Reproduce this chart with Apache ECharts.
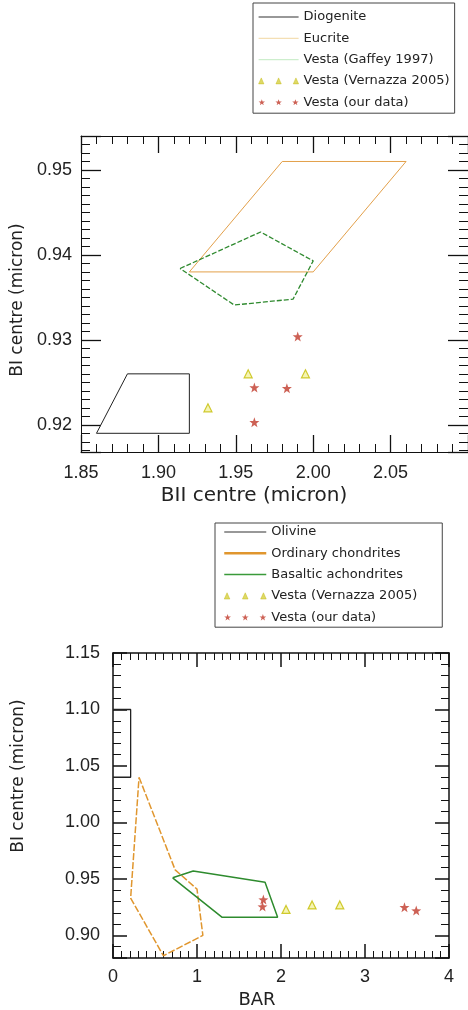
<!DOCTYPE html>
<html>
<head>
<meta charset="utf-8">
<script src="https://cdn.jsdelivr.net/npm/echarts@6/dist/echarts.min.js"></script>
<style>
  html, body { margin: 0; background: #fff; }
  #chart { width: 468px; height: 1010px; }
</style>
</head>
<body>
<div id="chart"></div>
<script>
// ---- top panel: BII centre vs BI centre (micron)
var diogenite = [[1.86, 0.919], [1.92, 0.919], [1.92, 0.926], [1.88, 0.926], [1.86, 0.919]];
var eucrite = [[1.92, 0.938], [2.00, 0.938], [2.06, 0.951], [1.98, 0.951], [1.92, 0.938]];
var gaffey = [[1.914, 0.9384], [1.966, 0.9427], [2.000, 0.9393], [1.987, 0.9348], [1.949, 0.9341], [1.914, 0.9384]];
var vernazzaBII = [[1.932, 0.922], [1.958, 0.926], [1.995, 0.926]];
var oursBII = [[1.990, 0.9304], [1.962, 0.9244], [1.983, 0.9243], [1.962, 0.9203]];
var topXRange = [1.85, 2.10];
var topYRange = [0.9168, 0.954];

// ---- bottom panel: BAR vs BI centre (micron)
var olivine = [[0, 1.10], [0.21, 1.10], [0.21, 1.04], [0, 1.04]];
var chondrites = [[0.31, 1.04], [0.74, 0.958], [1.00, 0.941], [1.07, 0.900], [0.60, 0.882], [0.21, 0.933], [0.31, 1.04]];
var achondrites = [[0.71, 0.951], [0.955, 0.957], [1.81, 0.947], [1.96, 0.916], [1.30, 0.916], [0.71, 0.951]];
var vernazzaBAR = [[2.06, 0.923], [2.37, 0.927], [2.70, 0.927]];
var oursBAR = [[1.78, 0.9255], [1.79, 0.9317], [3.47, 0.925], [3.61, 0.922]];
var botXRange = [0, 4];
var botYRange = [0.88, 1.15];

var topLegendNames = ['Diogenite', 'Eucrite', 'Vesta (Gaffey 1997)', 'Vesta (Vernazza 2005)', 'Vesta (our data)'];
var botLegendNames = ['Olivine', 'Ordinary chondrites', 'Basaltic achondrites', 'Vesta (Vernazza 2005)', 'Vesta (our data)'];

var STAR_PTS = [[5,0],[6.18,3.38],[9.76,3.46],[6.9,5.62],[7.94,9.05],[5,7],[2.06,9.05],[3.1,5.62],[0.24,3.46],[3.82,3.38]];
var STAR = 'path://' + STAR_PTS.map(function (p, i) { return (i ? 'L' : 'M') + p[0] + ',' + p[1]; }).join('') + 'Z';

// three little markers spread across the legend sample
function tripleStar() {
  var d = '';
  [0, 25, 50].forEach(function (dx) {
    STAR_PTS.forEach(function (p, i) { d += (i ? 'L' : 'M') + (p[0] + dx) + ',' + p[1]; });
    d += 'Z';
  });
  return 'path://' + d;
}
var TRI3 = 'path://M0,9L4,0L8,9Z M26,9L30,0L34,9Z M52,9L56,0L60,9Z';

var triStyle = { color: 'rgba(238,236,120,0.7)', borderColor: '#c4bd00', borderWidth: 1.2 };
var starStyle = { color: '#c0392b' };
var noSymbol = { opacity: 0 };

function axis(grid, pos, range, o) {
  return {
    type: 'value', gridIndex: grid, position: pos,
    min: range[0], max: range[1],
    interval: o.interval, splitNumber: o.splitNumber,
    axisLine: { show: true, onZero: false, lineStyle: { color: '#111', width: o.lw } },
    axisTick: { show: true, inside: true, length: o.tick, lineStyle: { color: '#111', width: o.tw } },
    minorTick: { show: true, splitNumber: o.minor, length: o.minorLen, lineStyle: { color: '#111', width: 1 } },
    splitLine: { show: false },
    axisLabel: o.fmt ? {
      show: true, margin: o.margin, color: '#222', fontSize: 18, fontFamily: 'Liberation Sans',
      formatter: o.fmt, showMinLabel: o.showMin, showMaxLabel: o.showMax
    } : { show: false }
  };
}
function f2(v) { return v.toFixed(2); }
function f0(v) { return v.toFixed(0); }

var topX = { interval: 0.05, lw: 1, tick: 17, tw: 1.3, minor: 5, minorLen: 8 };
var topY = { splitNumber: 5, lw: 1, tick: 20, tw: 1.3, minor: 10, minorLen: 9 };
var botX = { interval: 1, lw: 1.5, tick: 14, tw: 1.5, minor: 10, minorLen: 7 };
var botY = { splitNumber: 5, lw: 1.5, tick: 14, tw: 1.5, minor: 5, minorLen: 8 };

function withLabel(base, extra) { return Object.assign({}, base, extra); }

function lineSeries(name, data, x, y, style) {
  return {
    name: name, type: 'line', xAxisIndex: x, yAxisIndex: y, data: data,
    symbol: 'none', showSymbol: false, lineStyle: style, color: style.color, z: 2, silent: true
  };
}
function pointSeries(name, data, x, y, symbol, size, style) {
  return {
    name: name, type: 'scatter', xAxisIndex: x, yAxisIndex: y, data: data,
    symbol: symbol, symbolSize: size, itemStyle: style, z: 3
  };
}

var legendText = { fontFamily: 'DejaVu Sans', fontSize: 13, color: '#222', lineHeight: 14 };
var legTri = { color: '#d6d040', borderColor: '#bdb300', borderWidth: 0.5 };

var option = {
  animation: false,
  backgroundColor: '#fff',
  grid: [
    { left: 81, top: 136, width: 392, height: 316 },
    { left: 113, top: 653, width: 336, height: 305 }
  ],
  xAxis: [
    axis(0, 'bottom', topXRange, withLabel(topX, { fmt: f2, margin: 12, showMin: true, showMax: false })),
    axis(0, 'top', topXRange, topX),
    axis(1, 'bottom', botXRange, withLabel(botX, { fmt: f0, margin: 10, showMin: true, showMax: true })),
    axis(1, 'top', botXRange, botX)
  ],
  yAxis: [
    axis(0, 'left', topYRange, withLabel(topY, { fmt: f2, margin: 9, showMin: false, showMax: false })),
    axis(0, 'right', topYRange, topY),
    axis(1, 'left', botYRange, withLabel(botY, { fmt: f2, margin: 13, showMin: false, showMax: true })),
    axis(1, 'right', botYRange, botY)
  ],
  legend: [
    {
      orient: 'vertical', left: 253, top: 3, itemWidth: 40, itemHeight: 7, itemGap: 7.3,
      padding: [7, 5, 4, 5], borderColor: '#444', borderWidth: 1, textStyle: legendText,
      selectedMode: false,
      data: [
        { name: topLegendNames[0], lineStyle: { color: '#333', width: 1.2, type: 'solid' }, itemStyle: noSymbol },
        { name: topLegendNames[1], lineStyle: { color: '#f4dfb4', width: 1.2, type: 'solid' }, itemStyle: noSymbol },
        { name: topLegendNames[2], lineStyle: { color: '#cdeecd', width: 1.2, type: 'solid' }, itemStyle: noSymbol },
        { name: topLegendNames[3], icon: TRI3, itemStyle: legTri },
        { name: topLegendNames[4], icon: tripleStar(), itemStyle: starStyle }
      ]
    },
    {
      orient: 'vertical', left: 215, top: 523, itemWidth: 42, itemHeight: 7, itemGap: 7.3,
      padding: [2, 25, 3, 8], borderColor: '#444', borderWidth: 1, textStyle: legendText,
      selectedMode: false,
      data: [
        { name: botLegendNames[0], lineStyle: { color: '#333', width: 1.2, type: 'solid' }, itemStyle: noSymbol },
        { name: botLegendNames[1], lineStyle: { color: '#e0962e', width: 2.5, type: 'solid' }, itemStyle: noSymbol },
        { name: botLegendNames[2], lineStyle: { color: '#3a9a3a', width: 1.5, type: 'solid' }, itemStyle: noSymbol },
        { name: botLegendNames[3], icon: TRI3, itemStyle: legTri },
        { name: botLegendNames[4], icon: tripleStar(), itemStyle: starStyle }
      ]
    }
  ],
  graphic: [
    { type: 'text', x: 254, y: 496, style: { text: 'BII centre (micron)', font: '20px "DejaVu Sans"', fill: '#222', align: 'center', verticalAlign: 'middle' } },
    { type: 'text', x: 18, y: 300, rotation: Math.PI / 2, style: { text: 'BI centre (micron)', font: '17px "DejaVu Sans"', fill: '#222', align: 'center', verticalAlign: 'middle' } },
    { type: 'text', x: 257, y: 1000, style: { text: 'BAR', font: '18px "DejaVu Sans"', fill: '#222', align: 'center', verticalAlign: 'middle' } },
    { type: 'text', x: 19, y: 776, rotation: Math.PI / 2, style: { text: 'BI centre (micron)', font: '17px "DejaVu Sans"', fill: '#222', align: 'center', verticalAlign: 'middle' } }
  ],
  series: [
    lineSeries('Diogenite', diogenite, 0, 0, { color: '#222', width: 1 }),
    lineSeries('Eucrite', eucrite, 0, 0, { color: '#e3a04a', width: 1 }),
    lineSeries('Vesta (Gaffey 1997)', gaffey, 0, 0, { color: '#2f8a2f', width: 1.3, type: [5, 2] }),
    pointSeries('Vesta (Vernazza 2005)', vernazzaBII, 0, 0, 'triangle', 8, triStyle),
    pointSeries('Vesta (our data)', oursBII, 0, 0, STAR, 10, starStyle),

    lineSeries('Olivine', olivine, 2, 2, { color: '#222', width: 1.3 }),
    lineSeries('Ordinary chondrites', chondrites, 2, 2, { color: '#e0962e', width: 1.5, type: [7, 2] }),
    lineSeries('Basaltic achondrites', achondrites, 2, 2, { color: '#2e8b2e', width: 1.5 }),
    pointSeries('Vesta (Vernazza 2005)', vernazzaBAR, 2, 2, 'triangle', 8, triStyle),
    pointSeries('Vesta (our data)', oursBAR, 2, 2, STAR, 10, starStyle)
  ]
};

var myChart = echarts.init(document.getElementById('chart'), null, { renderer: 'canvas' });
myChart.setOption(option);
</script>
</body>
</html>
